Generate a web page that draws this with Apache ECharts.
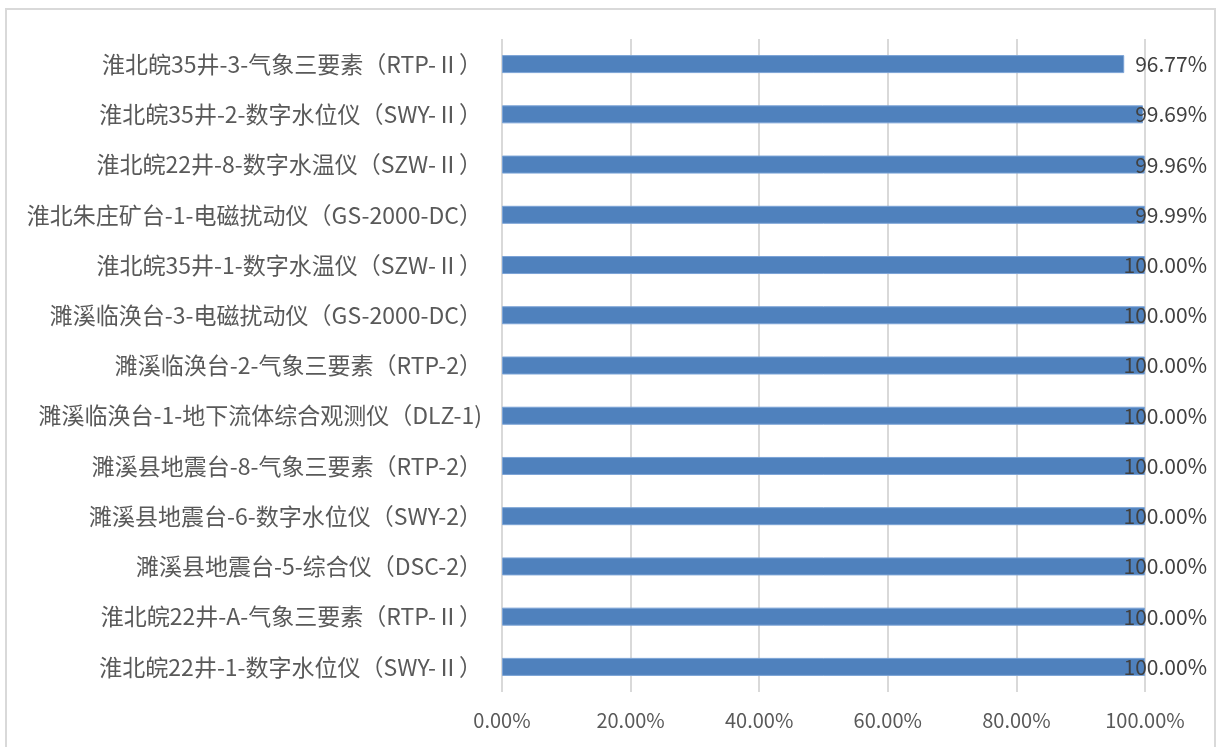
<!DOCTYPE html>
<html>
<head>
<meta charset="utf-8">
<script src="https://cdn.jsdelivr.net/npm/echarts@6/dist/echarts.min.js"></script>
<style>
html,body{margin:0;padding:0;background:#fff;}
#frame{position:absolute;left:5px;top:8px;width:1211px;height:745px;border:2px solid #d9d9d9;box-sizing:border-box;}
#c{position:absolute;left:0;top:0;width:1216px;height:747px;}
</style>
</head>
<body>
<div id="frame"></div>
<div id="c"></div>
<script>
// categories listed bottom to top (as drawn by a category y axis)
const categories = [
  '淮北皖22井-1-数字水位仪（SWY-Ⅱ）',
  '淮北皖22井-A-气象三要素（RTP-Ⅱ）',
  '濉溪县地震台-5-综合仪（DSC-2）',
  '濉溪县地震台-6-数字水位仪（SWY-2）',
  '濉溪县地震台-8-气象三要素（RTP-2）',
  '濉溪临涣台-1-地下流体综合观测仪（DLZ-1)',
  '濉溪临涣台-2-气象三要素（RTP-2）',
  '濉溪临涣台-3-电磁扰动仪（GS-2000-DC）',
  '淮北皖35井-1-数字水温仪（SZW-Ⅱ）',
  '淮北朱庄矿台-1-电磁扰动仪（GS-2000-DC）',
  '淮北皖22井-8-数字水温仪（SZW-Ⅱ）',
  '淮北皖35井-2-数字水位仪（SWY-Ⅱ）',
  '淮北皖35井-3-气象三要素（RTP-Ⅱ）'
];
const values = [1.0, 1.0, 1.0, 1.0, 1.0, 1.0, 1.0, 1.0, 1.0, 0.9999, 0.9996, 0.9969, 0.9677];
const xTicks = [0, 0.2, 0.4, 0.6, 0.8, 1.0];

const pct = v => (v * 100).toFixed(2) + '%';
const chart = echarts.init(document.getElementById('c'), null, {renderer: 'canvas'});
const fontCJK = '"Noto Sans CJK SC", "Noto Sans", sans-serif';
chart.setOption({
  animation: false,
  backgroundColor: 'transparent',
  grid: {left: 502, right: 71, top: 39, bottom: 55, containLabel: false},
  xAxis: {
    type: 'value', min: xTicks[0], max: xTicks[xTicks.length - 1], interval: 0.2,
    axisLine: {show: false}, axisTick: {show: false},
    axisLabel: {formatter: v => pct(v), color: '#595959', fontSize: 20, fontFamily: fontCJK, margin: 18},
    splitLine: {lineStyle: {color: '#d9d9d9', width: 2}}
  },
  yAxis: [{
    type: 'category', data: categories,
    axisLine: {show: false}, axisTick: {show: false},
    axisLabel: {color: '#595959', fontSize: 23, fontFamily: fontCJK, margin: 20}
  }, {
    type: 'category', data: values.map(pct), position: 'right', z: 10,
    axisLine: {show: false}, axisTick: {show: false},
    axisLabel: {color: '#404040', fontSize: 21, fontFamily: fontCJK, margin: 62, align: 'right'}
  }],
  series: [{
    type: 'bar', data: values, barWidth: 18, yAxisIndex: 0,
    itemStyle: {color: '#4f81bd', borderColor: '#7ba3d6', borderWidth: 1}
  }]
});
</script>
</body>
</html>
